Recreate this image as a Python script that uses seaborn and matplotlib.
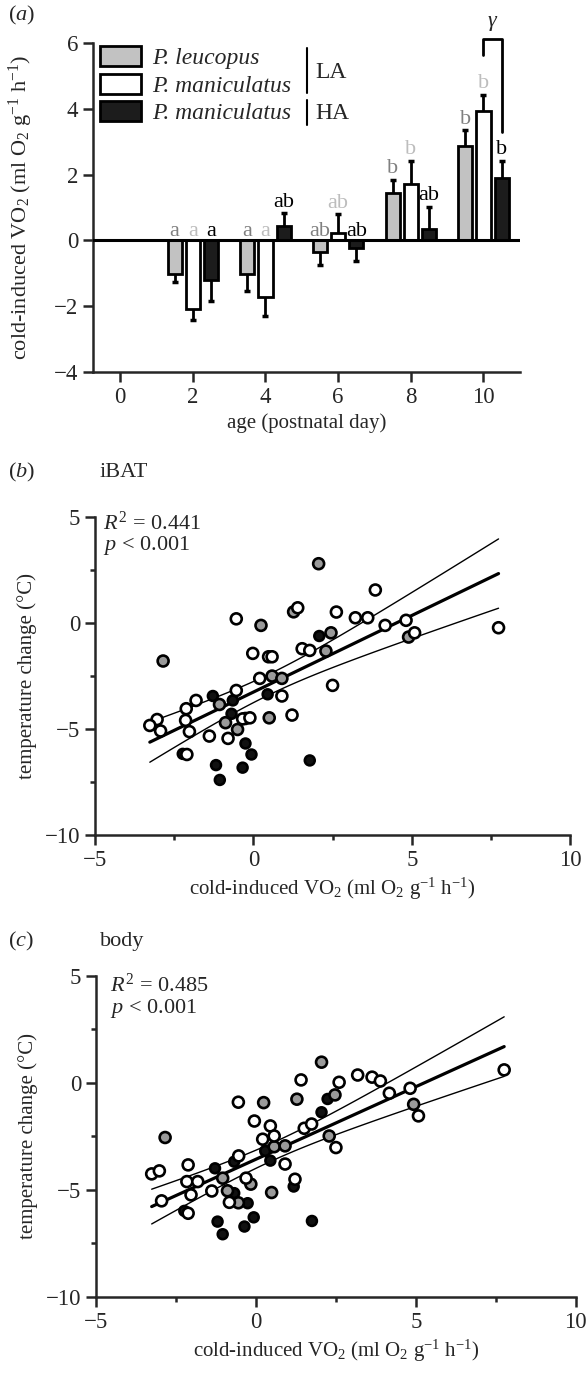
import numpy as np
import pandas as pd
import seaborn as sns
import matplotlib.pyplot as plt
from matplotlib.patches import Patch

sns.set_style("ticks")
plt.rcParams['font.family'] = ['Liberation Serif', 'DejaVu Serif']
plt.rcParams['mathtext.fontset'] = 'custom'
plt.rcParams['mathtext.rm'] = 'Liberation Serif'
plt.rcParams['mathtext.it'] = 'Liberation Serif:italic'
plt.rcParams['mathtext.bf'] = 'Liberation Serif:bold'
plt.rcParams['axes.linewidth'] = 1.8

# ---------------- panel (a): cold-induced VO2 by age ----------------
days = [2, 4, 6, 8, 10]
groups = ["P. leucopus LA", "P. maniculatus LA", "P. maniculatus HA"]
legend_names = ["P. leucopus", "P. maniculatus", "P. maniculatus"]
bar_colors = ["#c2c2c2", "white", "#1c1c1c"]
letter_colors = ["#808080", "#bdbdbd", "black"]

leu_mean = [-1.02, -1.02, -0.35, 1.45, 2.88]
leu_err = [0.25, 0.52, 0.40, 0.40, 0.47]
leu_letters = ["a", "a", "ab", "b", "b"]

manLA_mean = [-2.08, -1.72, 0.23, 1.72, 3.93]
manLA_err = [0.33, 0.56, 0.57, 0.71, 0.50]
manLA_letters = ["a", "a", "ab", "b", "b"]

manHA_mean = [-1.21, 0.43, -0.24, 0.35, 1.90]
manHA_err = [0.64, 0.40, 0.37, 0.67, 0.52]
manHA_letters = ["a", "ab", "ab", "ab", "b"]

# ---------------- panel (b): iBAT ----------------
b_open_x = [-0.54, -0.02, 0.48, 0.59, 0.20, -0.54, 0.90, -1.81, -2.12, -2.14, -3.04, -3.27,
            -2.93, -2.02, -0.34, -0.11, 1.22, -1.39, -0.80, -2.10, 3.85, 1.40, 2.62, 3.22,
            3.61, 4.16, 4.82, 5.09, 7.74, 1.54, 1.78, 2.50]
b_open_y = [0.20, -1.43, -1.59, -1.59, -2.61, -3.18, -3.44, -3.65, -4.04, -4.59, -4.55, -4.83,
            -5.09, -5.12, -4.52, -4.47, -4.34, -5.33, -5.44, -6.20, 1.56, 0.72, 0.52, 0.25,
            0.25, -0.11, 0.13, -0.46, -0.22, -1.21, -1.29, -2.94]
b_gray_x = [0.24, -2.85, 0.59, 0.90, -1.07, -0.88, -0.25, -0.50, 0.50, 2.06, 1.27, 4.90, 2.45, 2.29]
b_gray_y = [-0.11, -1.79, -2.50, -2.61, -3.84, -4.70, -4.50, -5.02, -4.47, 2.80, 0.53, -0.66, -0.46, -1.32]
b_black_x = [-1.28, -0.65, 0.45, -0.69, -0.25, -0.06, -2.23, -1.18, -0.34, -1.06, 2.08, 1.78]
b_black_y = [-3.44, -3.65, -3.36, -4.28, -5.68, -6.20, -6.17, -6.70, -6.82, -7.40, -0.61, -6.48]

# ---------------- panel (c): body ----------------
c_open_x = [1.41, 2.60, 3.18, 3.63, 3.89, 4.17, 4.82, 5.08, 7.76, -0.55, -0.05, 0.45, 0.21,
            0.57, 1.51, 1.74, 2.50, 0.91, 1.22, -0.54, -2.12, -3.26, -3.02, -2.16, -1.82,
            -2.03, -2.95, -1.38, -0.31, -0.83, -2.12]
c_open_y = [0.14, 0.03, 0.37, 0.27, 0.09, -0.48, -0.25, -1.54, 0.61, -0.90, -1.78, -2.01, -2.63,
            -2.48, -2.12, -1.92, -3.02, -3.79, -4.50, -3.41, -3.83, -4.25, -4.11, -4.61, -4.61,
            -5.23, -5.51, -5.05, -4.45, -5.58, -6.09]
c_gray_x = [2.05, 2.47, 4.93, 0.24, 1.28, 2.29, 0.57, 0.91, -1.04, -0.89, -0.16, -0.55, 0.49, -2.84]
c_gray_y = [0.97, -0.56, -1.00, -0.92, -0.76, -2.48, -2.98, -2.94, -4.45, -5.04, -4.73, -5.60, -5.12, -2.55]
c_black_x = [2.24, 2.05, 0.29, 0.45, 1.18, -0.68, -1.28, -0.68, -0.26, -2.24, -0.07, -1.20,
             -0.36, -1.04, 1.75]
c_black_y = [-0.75, -1.37, -3.18, -3.63, -4.84, -3.68, -3.99, -5.15, -5.62, -5.98, -6.28, -6.48,
             -6.71, -7.07, -6.45]

xlab_vo2 = r'cold-induced VO$_2$ (ml O$_2$ g$^{-1}$ h$^{-1}$)'

fig = plt.figure(figsize=(5.88, 13.73), dpi=100)
ax_a = fig.add_axes([0.158, 0.729, 0.726, 0.2396])
ax_b = fig.add_axes([0.1616, 0.3918, 0.808, 0.2316])
ax_c = fig.add_axes([0.1633, 0.0554, 0.816, 0.2338])

# ---- bars
rows = []
for g, means, errs, lets in zip(groups, [leu_mean, manLA_mean, manHA_mean],
                                [leu_err, manLA_err, manHA_err],
                                [leu_letters, manLA_letters, manHA_letters]):
    for d, m, e, l in zip(days, means, errs, lets):
        rows.append({"day": d, "group": g, "mean": m, "err": e, "letter": l})
df_a = pd.DataFrame(rows)

sns.barplot(data=df_a, x="day", y="mean", hue="group", hue_order=groups,
            palette=dict(zip(groups, bar_colors)), native_scale=True,
            width=0.75, gap=0.22, edgecolor="black", linewidth=2,
            errorbar=None, legend=False, ax=ax_a, zorder=2)

bars = sorted(ax_a.patches, key=lambda p: p.get_x())
df_s = df_a.assign(g_ord=df_a["group"].map({g: i for i, g in enumerate(groups)}))
df_s = df_s.sort_values(["day", "g_ord"])
centers = {}
for p, row in zip(bars, df_s.itertuples()):
    xc = p.get_x() + p.get_width() / 2
    centers[(row.day, row.group)] = xc
    end = row.mean + row.err if row.mean > 0 else row.mean - row.err
    ax_a.plot([xc, xc], [row.mean, end], color="black", lw=2, zorder=1,
              solid_capstyle="butt")
    ax_a.plot([xc], [end], marker="_", ms=5, mew=2.5, color="black", zorder=1)
    ly = end + 0.2 if row.mean > 0 else 0.15
    ax_a.text(xc, ly, row.letter, ha="center", va="baseline", fontsize=16,
              color=letter_colors[row.g_ord])

ax_a.axhline(0, color="black", lw=2.2, zorder=3)

# bracket between LA and HA P. maniculatus at day 10
bx0 = centers[(10, groups[1])]
bx1 = centers[(10, groups[2])]
ax_a.plot([bx0, bx0, bx1, bx1], [5.65, 6.12, 6.12, 3.3], color="black", lw=2,
          clip_on=False)
ax_a.text((bx0 + bx1) / 2, 6.3, r'$\gamma$', ha="center", va="bottom", fontsize=16)

ax_a.set_xlim(-0.75, 11)
ax_a.set_ylim(-4, 6)
ax_a.set_xticks([0, 2, 4, 6, 8, 10])
ax_a.set_yticks([-4, -2, 0, 2, 4, 6])
ax_a.set_xlabel("age (postnatal day)", fontsize=15, labelpad=4)
ax_a.set_ylabel(r'cold-induced VO$_2$ (ml O$_2$ g$^{-1}$ h$^{-1}$)', fontsize=16)
ax_a.yaxis.set_label_coords(-0.135, 0.5)
ax_a.tick_params(labelsize=16.5, length=7, width=1.8, direction="out")
sns.despine(ax=ax_a)

handles = [Patch(facecolor=c, edgecolor="black", linewidth=2) for c in bar_colors]
ax_a.legend(handles, legend_names, loc="upper left", bbox_to_anchor=(0.016, 0.99),
            frameon=False, prop={"style": "italic", "size": 17}, handlelength=1.75,
            handleheight=0.92, handletextpad=0.45, labelspacing=0.18, borderpad=0,
            borderaxespad=0)
ax_a.plot([0.501, 0.501], [0.985, 0.848], color="black", lw=1.5,
          transform=ax_a.transAxes, clip_on=False)
ax_a.plot([0.501, 0.501], [0.827, 0.751], color="black", lw=1.5,
          transform=ax_a.transAxes, clip_on=False)
ax_a.text(0.52, 0.912, "LA", transform=ax_a.transAxes, fontsize=17, va="center")
ax_a.text(0.52, 0.787, "HA", transform=ax_a.transAxes, fontsize=17, va="center")


# ---- scatter panels
def scatter_panel(ax, pts, r2, txt_pos):
    df = pd.concat([
        pd.DataFrame({"x": pts[4], "y": pts[5], "group": "HA"}),
        pd.DataFrame({"x": pts[2], "y": pts[3], "group": "leu"}),
        pd.DataFrame({"x": pts[0], "y": pts[1], "group": "LA"}),
    ], ignore_index=True)

    x = df["x"].to_numpy()
    y = df["y"].to_numpy()
    n = len(x)
    slope, icpt = np.polyfit(x, y, 1)
    xx = np.linspace(x.min(), x.max(), 100)
    resid = y - (slope * x + icpt)
    s = np.sqrt(np.sum(resid ** 2) / (n - 2))
    sxx = np.sum((x - x.mean()) ** 2)
    half = 2.0 * s * np.sqrt(1 / n + (xx - x.mean()) ** 2 / sxx)
    yy = slope * xx + icpt
    ax.plot(xx, yy + half, color="black", lw=1, zorder=1)
    ax.plot(xx, yy - half, color="black", lw=1, zorder=1)
    sns.regplot(data=df, x="x", y="y", scatter=False, ci=None, truncate=True,
                color="black", line_kws={"lw": 2.3, "zorder": 2}, ax=ax)

    sns.scatterplot(data=df, x="x", y="y", hue="group", size="group",
                    palette={"LA": "white", "leu": "#9a9a9a", "HA": "#111111"},
                    sizes={"LA": 62, "leu": 62, "HA": 50},
                    edgecolor="black", linewidth=1.9, legend=False,
                    ax=ax, zorder=3)

    ax.set_xlim(-5, 10)
    ax.set_ylim(-10, 5)
    ax.set_xticks([-5, 0, 5, 10])
    ax.set_xticks([-2.5, 2.5, 7.5], minor=True)
    ax.set_yticks([-10, -5, 0, 5])
    ax.set_yticks([-7.5, -2.5, 2.5], minor=True)
    ax.tick_params(which="major", labelsize=16.5, length=7, width=1.8)
    ax.tick_params(which="minor", length=3.5, width=1.8)
    ax.set_xlabel(xlab_vo2, fontsize=15, labelpad=4)
    ax.set_ylabel("temperature change (°C)", fontsize=15, labelpad=6)
    sns.despine(ax=ax)
    ax.text(txt_pos[0], txt_pos[1], r'$R^{2}\,{=}\,%.3f$' % r2, transform=ax.transAxes,
            fontsize=16, va="baseline")
    ax.text(txt_pos[0], txt_pos[2], r'$p\,{<}\,0.001$', transform=ax.transAxes,
            fontsize=16, va="baseline")


scatter_panel(ax_b, (b_open_x, b_open_y, b_gray_x, b_gray_y, b_black_x, b_black_y),
              0.441, (0.017, 0.959, 0.896))
scatter_panel(ax_c, (c_open_x, c_open_y, c_gray_x, c_gray_y, c_black_x, c_black_y),
              0.485, (0.029, 0.950, 0.885))

# panel labels
fig.text(0.0136, 0.989, r'($\mathit{a}$)', fontsize=16, va="center")
fig.text(0.0136, 0.656, r'($\mathit{b}$)', fontsize=16, va="center")
fig.text(0.17, 0.656, "iBAT", fontsize=16, va="center")
fig.text(0.0136, 0.314, r'($\mathit{c}$)', fontsize=16, va="center")
fig.text(0.17, 0.314, "body", fontsize=16, va="center")

fig.savefig("out.png", dpi=100)
